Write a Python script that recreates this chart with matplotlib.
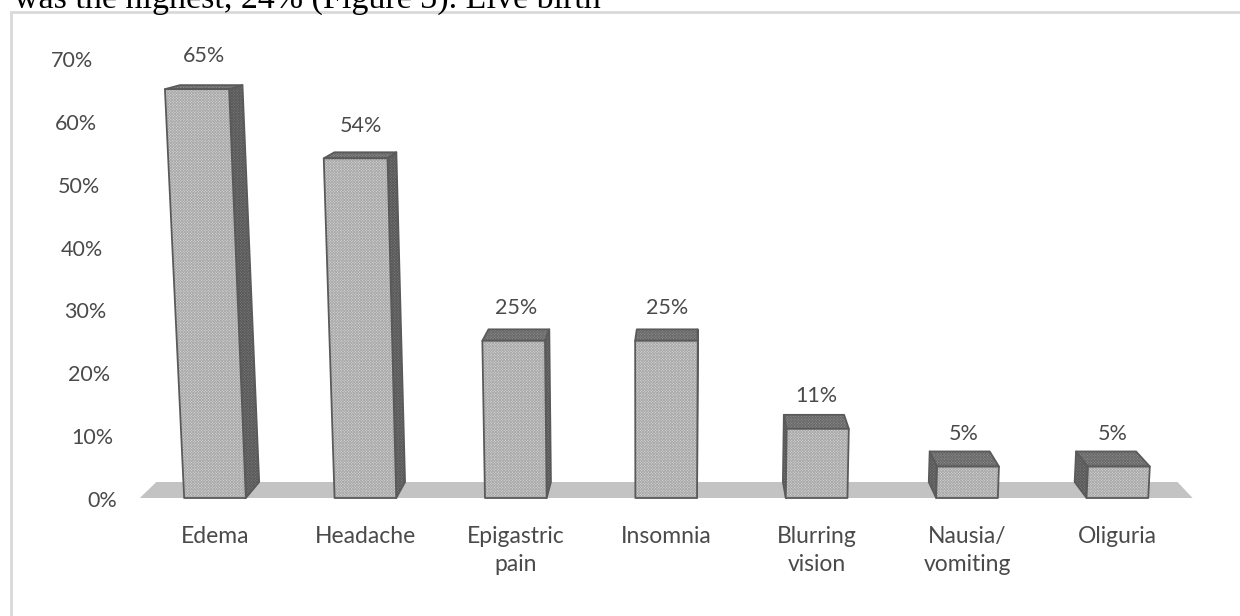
import matplotlib
matplotlib.use("Agg")
import matplotlib.pyplot as plt
from matplotlib.patches import Polygon, Rectangle

# ---------------- data ----------------
categories = ["Edema", "Headache", "Epigastric\npain", "Insomnia",
              "Blurring\nvision", "Nausia/\nvomiting", "Oliguria"]
values = [0.65, 0.54, 0.25, 0.25, 0.11, 0.05, 0.05]
value_labels = ["65%", "54%", "25%", "25%", "11%", "5%", "5%"]
ytick_values = [0.0, 0.1, 0.2, 0.3, 0.4, 0.5, 0.6, 0.7]
ytick_labels = ["0%", "10%", "20%", "30%", "40%", "50%", "60%", "70%"]
header_text = "was the highest, 24% (Figure 3). Live birth"

# ---------------- style / perspective ----------------
W, H = 1240, 616
FONT = ["Lato", "DejaVu Sans"]
TXT = "#4a4a4a"
FRONT = "#d6d6d6"
FRONT_H = "#aaaaaa"
TOP = "#8e8e8e"
TOP_H = "#6a6a6a"
SIDE = "#7a7a7a"
SIDE_H = "#5a5a5a"
EDGE = "#5a5a5a"
FLOOR = "#c3c3c3"

XV, TILT = 2.89, 0.0636          # vertical-edge divergence
DX0, DXK = 3.158, 0.03           # depth horizontal shift
DY0, DYK = 0.02544, 0.0293       # depth vertical shift
HALF_W = 0.205
FLOOR_L, FLOOR_R = -0.5, 6.5

plt.rcParams["hatch.linewidth"] = 0.6

def proj(x, h, z):
    sx = x + (x - XV) * h * TILT + z * (-(x - DX0) * DXK)
    sy = h + z * (DY0 - DYK * h)
    return sx, sy

fig = plt.figure(figsize=(W / 100, H / 100), dpi=100)
ax = fig.add_axes([0, 0, 1, 1])
ax.set_xlim(-215 / 150.4, (W - 215) / 150.4)
ax.set_ylim((498 - H) / 629, 498 / 629)
ax.axis("off")

def face(pts, fc, hc, z):
    ax.add_patch(Polygon(pts, closed=True, facecolor=fc, edgecolor=hc,
                         hatch="xxxxxxxxxxxx", linewidth=0, zorder=z))
    ax.add_patch(Polygon(pts, closed=True, facecolor="none", edgecolor=EDGE,
                         linewidth=1.3, joinstyle="round", zorder=z + 0.1))

# floor
floor = [proj(FLOOR_L, 0, 0), proj(FLOOR_R, 0, 0),
         proj(FLOOR_R, 0, 1), proj(FLOOR_L, 0, 1)]
ax.add_patch(Polygon(floor, closed=True, facecolor=FLOOR, edgecolor="none", zorder=1))

# bars
for i, (v, lab) in enumerate(zip(values, value_labels)):
    xl, xr = i - HALF_W, i + HALF_W
    dx = -(i - DX0) * DXK
    if dx > 0:
        side = [proj(xr, 0, 0), proj(xr, v, 0), proj(xr, v, 1), proj(xr, 0, 1)]
    else:
        side = [proj(xl, 0, 0), proj(xl, v, 0), proj(xl, v, 1), proj(xl, 0, 1)]
    face(side, SIDE, SIDE_H, 2)
    top = [proj(xl, v, 0), proj(xr, v, 0), proj(xr, v, 1), proj(xl, v, 1)]
    face(top, TOP, TOP_H, 3)
    front = [proj(xl, 0, 0), proj(xr, 0, 0), proj(xr, v, 0), proj(xl, v, 0)]
    face(front, FRONT, FRONT_H, 4)
    lx, _ = proj(i, v, 0.5)
    ax.text(lx, v + 0.052, lab, ha="center", va="center", fontsize=15.5,
            color=TXT, family=FONT)

# y tick labels (follow tilted wall)
XLAB = -0.652
for tv, tl in zip(ytick_values, ytick_labels):
    tx, _ = proj(XLAB, tv, 0)
    ax.text(tx, tv - 0.005, tl, ha="right", va="center", fontsize=15.5,
            color=TXT, family=FONT)

# category labels (one text per line)
LINE_Y = [-0.062, -0.1065]
for i, c in enumerate(categories):
    for line, ly in zip(c.split("\n"), LINE_Y):
        ax.text(i, ly, line, ha="center", va="center", fontsize=16.5,
                color=TXT, family=FONT)

# frame border and header
fig.patches.append(Rectangle((11 / W, -0.5), 2, 1.5 - 12 / H, transform=fig.transFigure,
                             facecolor="none", edgecolor="#d9d9d9", linewidth=2.0))
fig.text(14 / W, 1 - 8 / H, header_text, family=["Liberation Serif"], fontsize=24.5,
         color="black", va="baseline", ha="left")

fig.savefig("out.png", dpi=100)
